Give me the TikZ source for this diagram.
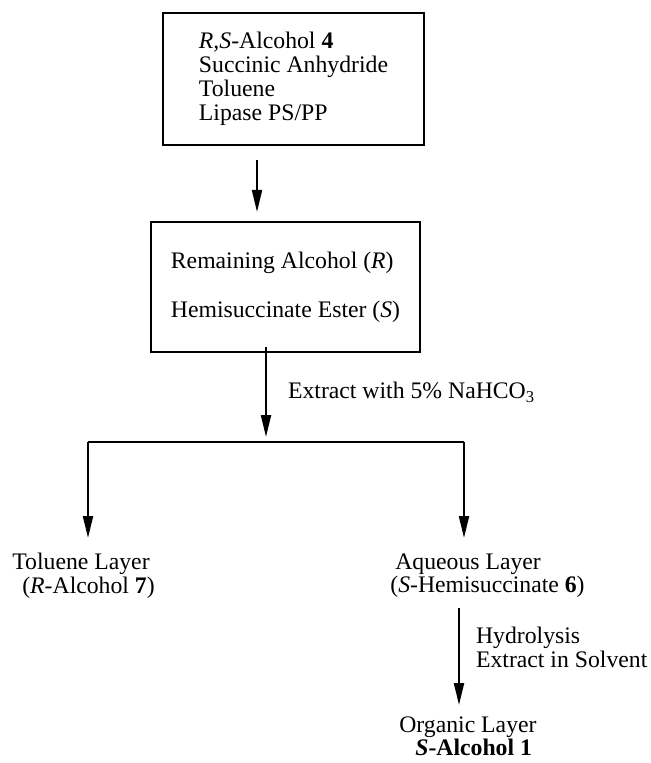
\documentclass[tikz,border=0pt]{standalone}
\usepackage{fontspec}
\setmainfont{Liberation Serif}
\usetikzlibrary{arrows.meta,calc}
\tikzset{
  box/.style={draw, line width=1.2pt, align=left, inner sep=0pt,
              font=\fontsize{13.5}{13.6}\selectfont},
  arr/.style={-{Triangle[length=0.44cm,width=0.2cm]}, line width=1.2pt},
  lab/.style={font=\fontsize{13.5}{13.6}\selectfont, align=left, inner sep=0pt}
}

\begin{document}
\begin{tikzpicture}[x=0.02cm, y=-0.02cm]
  \useasboundingbox (0,0) rectangle (650,763);
  \node[box, minimum width=5.22cm, minimum height=2.64cm] (start) at (293.5,79)
    {\textit{R,S}-Alcohol \textbf{4}\\Succinic Anhydride\\Toluene\\Lipase PS/PP};
  \node[box, minimum width=5.38cm, minimum height=2.6cm] (mix) at (285.5,287)
    {Remaining Alcohol (\textit{R})\\[0.5cm]Hemisuccinate Ester (\textit{S})};
  \draw[arr] ($(start.south)+(-36.5,14)$) -- ($(mix.north)+(-28.5,-9)$);

  % split into the two layers
  \coordinate (split) at (266,442);
  \coordinate (lft) at (88,442);
  \coordinate (rgt) at (464,442);
  \draw[arr] ($(mix.south)+(-19.5,-6)$) --
    node[lab, anchor=west, xshift=0.42cm] {Extract with 5\% NaHCO\textsubscript{3}} ($(split)+(0,-5)$);
  \draw[line width=1.2pt] (lft) -- (rgt);

  \node[lab, anchor=north west] (tol) at (12,553)
    {Toluene Layer\\\hspace{0.2cm}(\textit{R}-Alcohol \textbf{7})};
  \node[lab, anchor=north west] (aq) at (390,553)
    {\hspace{0.1cm}Aqueous Layer\\(\textit{S}-Hemisuccinate \textbf{6})};
  \node[lab, anchor=north west] (org) at (399,716)
    {Organic Layer\\\hspace{0.32cm}\textbf{\textit{S}-Alcohol 1}};

  \draw[arr] (lft) -- ($(lft |- tol.north)+(0,-15)$);
  \draw[arr] (rgt) -- ($(rgt |- aq.north)+(0,-15)$);
  \draw[arr] ($(aq.south -| rgt)+(-5,10)$) --
    node[lab, anchor=west, xshift=0.32cm, yshift=0.18cm] {Hydrolysis\\Extract in Solvent} ($(org.north -| rgt)+(-5,-11)$);
\end{tikzpicture}
\end{document}
